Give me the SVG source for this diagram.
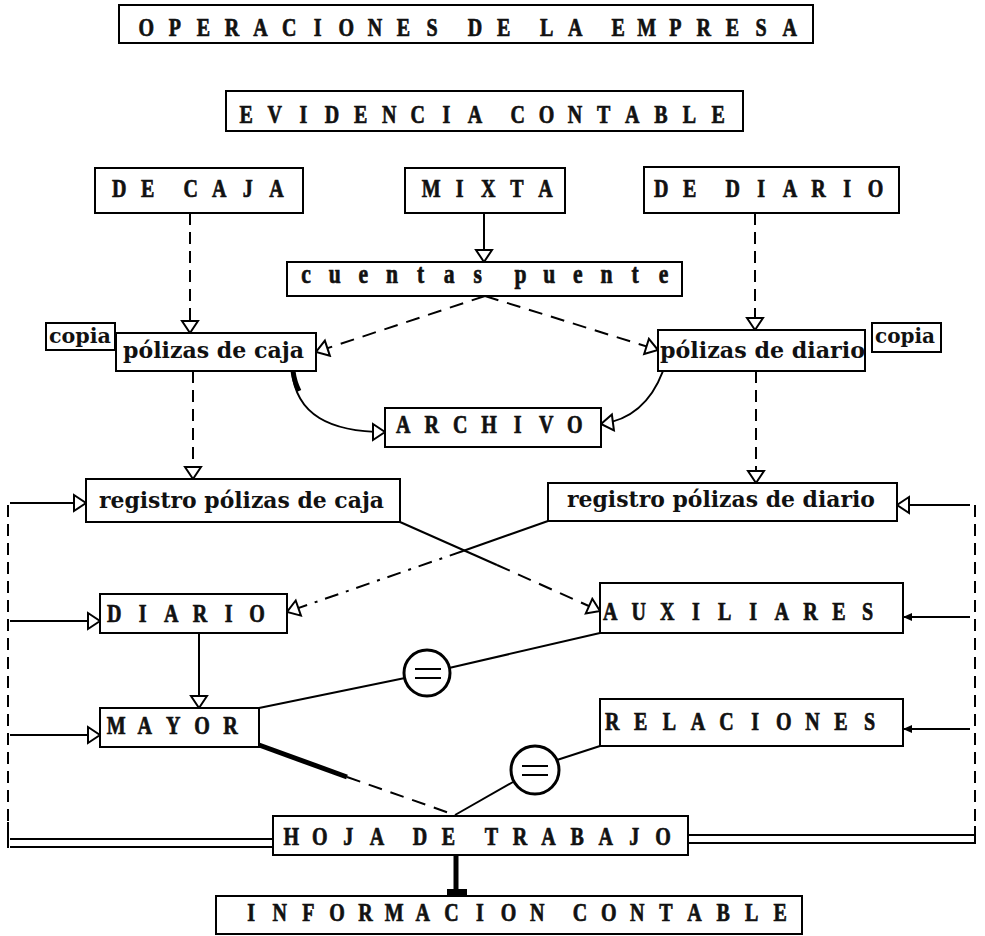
<svg xmlns="http://www.w3.org/2000/svg" width="985" height="936" viewBox="0 0 985 936">
<style>
  .box { fill: #fff; stroke: #000; stroke-width: 2; }
  .cap { font-family: "Liberation Serif", "DejaVu Serif", serif; font-weight: bold; font-size: 25px; text-anchor: middle; fill: #111; stroke: #111; stroke-width: 0.7px; }
  .lc { font-family: "DejaVu Serif", "Liberation Serif", serif; font-weight: bold; font-size: 23px; fill: #111; }
  .sm { font-family: "DejaVu Serif", "Liberation Serif", serif; font-weight: bold; font-size: 21px; fill: #111; }
  .ln { fill: none; stroke: #000; stroke-width: 2; }
  .dash { stroke-dasharray: 12 7; }
  .dash2 { stroke-dasharray: 14 9; }
  .dashdot { stroke-dasharray: 14 8 3 8; }
  .thick { fill: none; stroke: #000; stroke-width: 5; }
  .eq { fill: #fff; stroke: #000; stroke-width: 3; }
</style>
<defs>
  <marker id="tri" viewBox="0 0 16 20" refX="14" refY="10" markerWidth="16" markerHeight="20" markerUnits="userSpaceOnUse" orient="auto">
    <path d="M2,2 L14,10 L2,18 z" fill="#fff" stroke="#000" stroke-width="2" stroke-dasharray="none"/>
  </marker>
  <marker id="trs" viewBox="0 0 10 10" refX="9" refY="5" markerWidth="10" markerHeight="10" markerUnits="userSpaceOnUse" orient="auto">
    <path d="M0,1 L9,5 L0,9 z" fill="#000"/>
  </marker>
</defs>
<rect width="985" height="936" fill="#fff"/>

<g id="connectors">
  <line class="ln dash" x1="190" y1="213" x2="190" y2="333" marker-end="url(#tri)"/>
  <line class="ln" x1="484" y1="213" x2="484" y2="262" marker-end="url(#tri)"/>
  <line class="ln dash" x1="755" y1="213" x2="755" y2="330" marker-end="url(#tri)"/>
  <line class="ln dash2" x1="485" y1="296" x2="316" y2="352" marker-end="url(#tri)"/>
  <line class="ln dash2" x1="485" y1="296" x2="658" y2="350" marker-end="url(#tri)"/>
  <path class="ln" d="M292,371 C296,415 330,432 385,432" marker-end="url(#tri)"/>
  <path class="thick" d="M293,371 C294,379 296,385 299,391"/>
  <path class="ln" d="M663,371 C652,400 632,420 601,424" marker-end="url(#tri)"/>
  <line class="ln dash" x1="193" y1="371" x2="193" y2="479" marker-end="url(#tri)"/>
  <line class="ln dash" x1="756" y1="371" x2="756" y2="483" marker-end="url(#tri)"/>
  <line class="ln" x1="400" y1="522" x2="497" y2="565"/>
  <line class="ln dash2" x1="497" y1="565" x2="600" y2="611" marker-end="url(#tri)"/>
  <line class="ln" x1="548" y1="521" x2="463" y2="551"/>
  <line class="ln dashdot" x1="463" y1="551" x2="287" y2="612" marker-end="url(#tri)"/>
  <!-- left feedback loop -->
  <line class="ln" x1="10" y1="839" x2="273" y2="839"/>
  <line class="ln" x1="10" y1="847" x2="273" y2="847"/>
  <line class="ln dash" x1="8" y1="505" x2="8" y2="822"/>
  <line class="ln" x1="8" y1="822" x2="8" y2="848"/>
  <line class="ln" x1="10" y1="503" x2="86" y2="503" marker-end="url(#tri)"/>
  <line class="ln" x1="10" y1="621" x2="100" y2="621" marker-end="url(#tri)"/>
  <line class="ln" x1="10" y1="735" x2="100" y2="735" marker-end="url(#tri)"/>
  <!-- right feedback loop -->
  <line class="ln" x1="688" y1="835" x2="975" y2="835"/>
  <line class="ln" x1="688" y1="843" x2="975" y2="843"/>
  <line class="ln dash" x1="975" y1="505" x2="975" y2="826"/>
  <line class="ln" x1="975" y1="826" x2="975" y2="844"/>
  <line class="ln" x1="970" y1="505" x2="897" y2="505" marker-end="url(#tri)"/>
  <line class="ln" x1="970" y1="617" x2="903" y2="617" marker-end="url(#trs)"/>
  <line class="ln" x1="970" y1="729" x2="903" y2="729" marker-end="url(#trs)"/>
  <!-- DIARIO to MAYOR -->
  <line class="ln" x1="199" y1="633" x2="199" y2="708" marker-end="url(#tri)"/>
  <!-- MAYOR = AUXILIARES -->
  <line class="ln" x1="259" y1="708" x2="405" y2="678"/>
  <line class="ln" x1="449" y1="668" x2="600" y2="633"/>
  <circle class="eq" cx="427" cy="673" r="23"/>
  <line class="ln" stroke-width="3" x1="415" y1="669" x2="441" y2="669"/>
  <line class="ln" stroke-width="3" x1="415" y1="678" x2="441" y2="678"/>
  <!-- MAYOR to HOJA -->
  <line class="thick" x1="259" y1="745" x2="347" y2="777"/>
  <line class="ln dash2" x1="347" y1="777" x2="455" y2="815"/>
  <!-- RELACIONES = HOJA -->
  <line class="ln" x1="455" y1="815" x2="513" y2="782"/>
  <line class="ln" x1="557" y1="760" x2="600" y2="746"/>
  <circle class="eq" cx="535" cy="770" r="24"/>
  <line class="ln" stroke-width="3" x1="522" y1="766" x2="548" y2="766"/>
  <line class="ln" stroke-width="3" x1="522" y1="775" x2="548" y2="775"/>
  <!-- HOJA to INFORMACION -->
  <line class="thick" x1="456" y1="855" x2="456" y2="890"/>
  <rect x="447" y="889" width="20" height="6" fill="#000"/>
</g>

<g id="n-operaciones"><rect class="box" x="119" y="5" width="694" height="38"/>
  <g transform="translate(146.15,36) scale(0.8,1)"><text class="cap" x="0 35.75 71.5 107.25 143 178.75 214.5 250.25 286 321.75 357.5 375.4 411.1 446.9 464.8 500.5 536.3 554.1 589.9 625.6 661.4 697.1 732.9 768.6 804.4" y="0">OPERACIONES DE LA EMPRESA</text></g></g>
<g id="n-evidencia"><rect class="box" x="226" y="91" width="517" height="40"/>
  <g transform="translate(246.15,123) scale(0.8,1)"><text class="cap" x="0 35.75 71.5 107.25 143 178.75 214.5 250.25 286 303.9 339.6 375.4 411.1 446.9 482.6 518.4 554.1 589.9" y="0">EVIDENCIA CONTABLE</text></g></g>
<g id="n-decaja"><rect class="box" x="95" y="168" width="208" height="45"/>
  <g transform="translate(119.15,197) scale(0.8,1)"><text class="cap" x="0 35.75 53.6 89.4 125.1 160.9 196.6" y="0">DE CAJA</text></g></g>
<g id="n-mixta"><rect class="box" x="405" y="168" width="160" height="45"/>
  <g transform="translate(431.15,197) scale(0.8,1)"><text class="cap" x="0 35.75 71.5 107.25 143" y="0">MIXTA</text></g></g>
<g id="n-dediario"><rect class="box" x="644" y="167" width="255" height="46"/>
  <g transform="translate(661.15,197) scale(0.8,1)"><text class="cap" x="0 35.75 53.6 89.4 125.1 160.9 196.6 232.4 268.1" y="0">DE DIARIO</text></g></g>
<g id="n-cuentas"><rect class="box" x="287" y="262" width="395" height="34"/>
  <g transform="translate(306.15,283) scale(0.8,1)"><text class="cap" style="font-size:27px" x="0 35.75 71.5 107.25 143 178.75 214.5 232.4 268.1 303.9 339.6 375.4 411.1 446.9" y="0">cuentas puente</text></g></g>
<g id="n-copia-l"><rect class="box" x="46" y="323" width="69" height="27"/><text class="sm" x="49" y="343" textLength="62" lengthAdjust="spacingAndGlyphs">copia</text></g>
<g id="n-polcaja"><rect class="box" x="116" y="333" width="200" height="38"/><text class="lc" x="123" y="358" textLength="181" lengthAdjust="spacingAndGlyphs">pólizas de caja</text></g>
<g id="n-poldiario"><rect class="box" x="658" y="330" width="207" height="41"/><text class="lc" x="660" y="358" textLength="205" lengthAdjust="spacingAndGlyphs">pólizas de diario</text></g>
<g id="n-copia-r"><rect class="box" x="872" y="323" width="69" height="29"/><text class="sm" x="875" y="343" textLength="60" lengthAdjust="spacingAndGlyphs">copia</text></g>
<g id="n-archivo"><rect class="box" x="385" y="408" width="216" height="39"/>
  <g transform="translate(403.15,433) scale(0.8,1)"><text class="cap" x="0 35.75 71.5 107.25 143 178.75 214.5" y="0">ARCHIVO</text></g></g>
<g id="n-regcaja"><rect class="box" x="86" y="479" width="314" height="43"/><text class="lc" x="99" y="508" textLength="285" lengthAdjust="spacingAndGlyphs">registro pólizas de caja</text></g>
<g id="n-regdiario"><rect class="box" x="548" y="483" width="349" height="38"/><text class="lc" x="567" y="507" textLength="308" lengthAdjust="spacingAndGlyphs">registro pólizas de diario</text></g>
<g id="n-diario"><rect class="box" x="100" y="594" width="187" height="39"/>
  <g transform="translate(114.15,622) scale(0.8,1)"><text class="cap" x="0 35.75 71.5 107.25 143 178.75" y="0">DIARIO</text></g></g>
<g id="n-auxiliares"><rect class="box" x="600" y="583" width="303" height="50"/>
  <g transform="translate(610.15,620) scale(0.8,1)"><text class="cap" x="0 35.75 71.5 107.25 143 178.75 214.5 250.25 286 321.75" y="0">AUXILIARES</text></g></g>
<g id="n-mayor"><rect class="box" x="100" y="708" width="159" height="39"/>
  <g transform="translate(116.15,734) scale(0.8,1)"><text class="cap" x="0 35.75 71.5 107.25 143" y="0">MAYOR</text></g></g>
<g id="n-relaciones"><rect class="box" x="600" y="699" width="303" height="47"/>
  <g transform="translate(612.15,730) scale(0.8,1)"><text class="cap" x="0 35.75 71.5 107.25 143 178.75 214.5 250.25 286 321.75" y="0">RELACIONES</text></g></g>
<g id="n-hoja"><rect class="box" x="273" y="816" width="415" height="39"/>
  <g transform="translate(291.15,845) scale(0.8,1)"><text class="cap" x="0 35.75 71.5 107.25 125.1 160.9 196.6 214.5 250.25 286 321.75 357.5 393.25 429 464.75" y="0">HOJA DE TRABAJO</text></g></g>
<g id="n-informacion"><rect class="box" x="216" y="896" width="586" height="38"/>
  <g transform="translate(251.15,921) scale(0.8,1)"><text class="cap" x="0 35.75 71.5 107.25 143 178.75 214.5 250.25 286 321.75 357.5 375.4 411.1 446.9 482.6 518.4 554.1 589.9 625.6 661.4" y="0">INFORMACION CONTABLE</text></g></g>
</svg>
